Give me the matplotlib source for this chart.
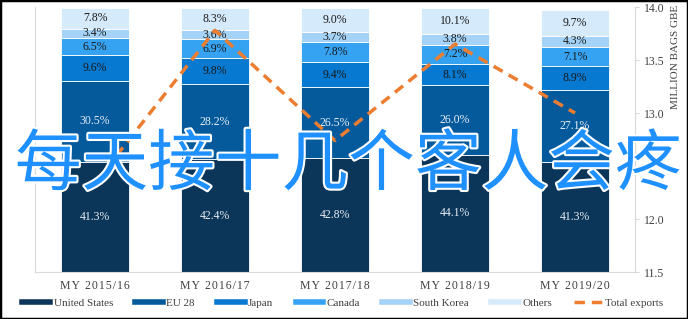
import matplotlib
matplotlib.use("Agg")
import matplotlib.pyplot as plt
import matplotlib.patheffects as pe
from matplotlib.lines import Line2D
from matplotlib.patches import Rectangle
import numpy as np

categories = ["MY 2015/16", "MY 2016/17", "MY 2017/18", "MY 2018/19", "MY 2019/20"]
series_names = ["United States", "EU 28", "Japan", "Canada", "South Korea", "Others"]
united_states = [41.3, 42.4, 42.8, 44.1, 41.3]
eu28 = [30.5, 28.2, 26.5, 26.0, 27.1]
japan = [9.6, 9.8, 9.4, 8.1, 8.9]
canada = [6.5, 6.9, 7.8, 7.2, 7.1]
south_korea = [3.4, 3.6, 3.7, 3.8, 4.3]
others = [7.8, 8.3, 9.0, 10.1, 9.7]
total_exports = [12.34, 13.78, 12.74, 13.65, 13.0]
right_ticks = [11.5, 12.0, 12.5, 13.0, 13.5, 14.0]
right_tick_labels = ["11.5", "12.0", "", "13.0", "13.5", "14.0"]
overlay_text = "每天接十几个客人会疼"

colors = ["#0b3559", "#055a9c", "#0879d0", "#36a3f2", "#a4d3f7", "#d5eafb"]
label_colors = ["#e8eef5", "#e8eef5", "#1a1a1a", "#1a1a1a", "#1a1a1a", "#1a1a1a"]
orange = "#ed7d31"

plt.rcParams['font.family'] = ['Liberation Serif', 'DejaVu Serif']

def spaced(s):
    return "\u200a".join(s)

fig = plt.figure(figsize=(6.88, 3.19), dpi=100)
ax = fig.add_axes([35/688, 1 - 272/319, 600/688, 265/319])
x = np.arange(len(categories))
data = [united_states, eu28, japan, canada, south_korea, others]
bottom = np.zeros(len(categories))
for vals, c, lc, name in zip(data, colors, label_colors, series_names):
    vals = np.array(vals)
    ax.bar(x, vals, bottom=bottom, width=0.57, color=c, edgecolor="white", linewidth=0.6, label=name)
    for xi, v, b in zip(x, vals, bottom):
        ax.text(xi, b + v / 2, f"{v:.1f}%", ha="center", va="center", fontsize=8.5, color=lc)
    bottom += vals

ax.set_xlim(-0.5, 4.5)
ax.set_ylim(0, 99.5)
ax.set_yticks([])
ax.set_xticks(x)
ax.set_xticklabels([spaced(c) for c in categories], fontsize=8.5, color="#404040")
ax.tick_params(axis="x", length=0, pad=6)
ax.spines["top"].set_visible(False)
ax.spines["right"].set_visible(False)
ax.spines["left"].set_color("#d9d9d9")
ax.spines["bottom"].set_color("#d9d9d9")

ax2 = ax.twinx()
ax2.plot(x, total_exports, color=orange, linestyle=(0, (3, 2)), linewidth=2.5, label="Total exports")
ax2.set_ylim(11.5, 14.0)
ax2.set_yticks(right_ticks)
ax2.set_yticklabels(right_tick_labels)
ax2.tick_params(axis="y", colors="#404040", labelsize=8.5, length=3, color="#d9d9d9")
for s in ["top", "left", "bottom"]:
    ax2.spines[s].set_visible(False)
ax2.spines["right"].set_color("#d9d9d9")
ax2.set_ylabel("MILLION BAGS GBE", fontsize=8, color="#404040")
ax2.yaxis.set_label_coords(1.06, 0.81)

handles = [Line2D([0], [0], color=c, linewidth=4) for c in colors]
handles.append(Line2D([0], [0], color=orange, linewidth=2.5, linestyle=(0, (3, 2))))
labels = series_names + ["Total exports"]
fig.legend(handles, labels, loc="center", bbox_to_anchor=(343/688, 1 - 303/319), ncol=7,
           frameon=False, fontsize=8, handlelength=2.5, columnspacing=2.0, handletextpad=0.3,
           labelcolor="#404040", borderpad=0, borderaxespad=0)

fig.text(348/688, 1 - 166/319, overlay_text, ha="center", va="center", fontsize=48,
         color="#1e90ff", family=["Noto Sans CJK SC", "DejaVu Sans"], fontweight="medium",
         path_effects=[pe.withStroke(linewidth=3, foreground="white")])

fig.patches.append(Rectangle((0, 0), 1, 1, transform=fig.transFigure, fill=False,
                             edgecolor="black", linewidth=2.5))

fig.savefig("out.png", dpi=100)
